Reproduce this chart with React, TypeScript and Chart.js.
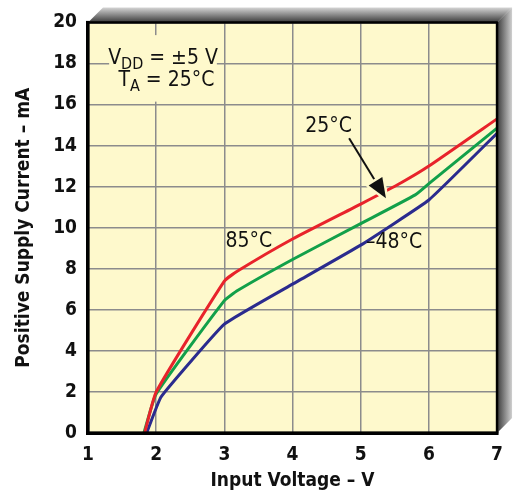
import React, { useEffect, useRef } from "react";
import { Chart, registerables } from "chart.js";

Chart.register(...registerables);

const FONT = '"Liberation Sans Narrow", "DejaVu Sans Condensed", "Liberation Sans", Arial, sans-serif';

// Input voltage (V) / positive supply current (mA)
const redVolts = [1.83, 2.0, 3.0, 3.2, 4.0, 5.0, 5.6, 6.0, 7.0];
const redCurrent = [0, 2.0, 7.4, 7.9, 9.45, 11.15, 12.2, 13.0, 15.3];
const greenVolts = [1.82, 2.0, 3.0, 3.2, 4.0, 5.0, 5.8, 6.0, 7.0];
const greenCurrent = [0, 1.9, 6.45, 6.95, 8.45, 10.2, 11.6, 12.15, 14.85];
const blueVolts = [1.86, 2.07, 3.0, 4.0, 5.0, 6.0, 7.0];
const blueCurrent = [0, 1.75, 5.3, 7.25, 9.15, 11.35, 14.6];

const seriesNames = ["85°C", "25°C", "–48°C"];
const xTicks = [1, 2, 3, 4, 5, 6, 7];
const yTicks = [0, 2, 4, 6, 8, 10, 12, 14, 16, 18, 20];

const zip = (xs: number[], ys: number[]) => xs.map((x, i) => ({ x, y: ys[i] }));

function drawRuns(ctx: CanvasRenderingContext2D, runs: { t: string; sub?: boolean }[], cx: number, cy: number, size: number) {
  const widths = runs.map((r) => {
    ctx.font = `${r.sub ? Math.round(size * 0.75) : size}px ${FONT}`;
    return ctx.measureText(r.t).width;
  });
  const total = widths.reduce((a, b) => a + b, 0);
  let x = cx - total / 2;
  ctx.textBaseline = "middle";
  ctx.textAlign = "left";
  runs.forEach((r, i) => {
    ctx.font = `${r.sub ? Math.round(size * 0.75) : size}px ${FONT}`;
    ctx.fillText(r.t, x, r.sub ? cy + size * 0.3 : cy);
    x += widths[i];
  });
}

const decor = {
  id: "decor",
  beforeDraw(chart: any) {
    const { ctx, chartArea } = chart;
    const { left, top, right, bottom } = chartArea;
    const d = 15;
    ctx.save();
    let g = ctx.createLinearGradient(0, top - d, 0, top);
    g.addColorStop(0, "#d6d6d6");
    g.addColorStop(1, "#3a3a3a");
    ctx.fillStyle = g;
    ctx.beginPath();
    ctx.moveTo(left, top);
    ctx.lineTo(left + d, top - d);
    ctx.lineTo(right + d, top - d);
    ctx.lineTo(right, top);
    ctx.closePath();
    ctx.fill();
    g = ctx.createLinearGradient(right, 0, right + d, 0);
    g.addColorStop(0, "#3a3a3a");
    g.addColorStop(1, "#d0d0d0");
    ctx.fillStyle = g;
    ctx.beginPath();
    ctx.moveTo(right, top);
    ctx.lineTo(right + d, top - d);
    ctx.lineTo(right + d, bottom - d);
    ctx.lineTo(right, bottom);
    ctx.closePath();
    ctx.fill();
    ctx.fillStyle = "#fef9cc";
    ctx.fillRect(left, top, right - left, bottom - top);
    ctx.restore();
  },
  beforeDatasetsDraw(chart: any) {
    const { ctx, scales } = chart;
    const x = scales.x, y = scales.y;
    ctx.save();
    ctx.fillStyle = "#fef9cc";
    const bx0 = x.getPixelForValue(1.31), bx1 = x.getPixelForValue(2.89);
    const by0 = y.getPixelForValue(19.38), by1 = y.getPixelForValue(16.14);
    ctx.fillRect(bx0, by0, bx1 - bx0, by1 - by0);
    ctx.fillStyle = "#111";
    drawRuns(ctx, [{ t: "V" }, { t: "DD", sub: true }, { t: " = ±5 V" }], x.getPixelForValue(2.1), y.getPixelForValue(18.25), 21);
    drawRuns(ctx, [{ t: "T" }, { t: "A", sub: true }, { t: " = 25°C" }], x.getPixelForValue(2.15), y.getPixelForValue(17.15), 21);
    ctx.restore();
  },
  afterDatasetsDraw(chart: any) {
    const { ctx, scales, chartArea } = chart;
    const x = scales.x, y = scales.y;
    ctx.save();
    ctx.fillStyle = "#111";
    ctx.textAlign = "center";
    ctx.textBaseline = "middle";
    ctx.font = `21px ${FONT}`;
    ctx.fillText(seriesNames[0], x.getPixelForValue(3.36), y.getPixelForValue(9.34));
    ctx.fillText(seriesNames[1], x.getPixelForValue(4.53), y.getPixelForValue(14.93));
    ctx.fillText(seriesNames[2], x.getPixelForValue(5.49), y.getPixelForValue(9.29));
    const x0 = x.getPixelForValue(4.83), y0 = y.getPixelForValue(14.36);
    const x1 = x.getPixelForValue(5.37), y1 = y.getPixelForValue(11.43);
    const ang = Math.atan2(y1 - y0, x1 - x0);
    const hl = 20, hw = 8;
    const bxp = x1 - hl * Math.cos(ang), byp = y1 - hl * Math.sin(ang);
    ctx.strokeStyle = "#111";
    ctx.lineWidth = 2;
    ctx.beginPath();
    ctx.moveTo(x0, y0);
    ctx.lineTo(bxp, byp);
    ctx.stroke();
    ctx.beginPath();
    ctx.moveTo(x1, y1);
    ctx.lineTo(bxp + hw * Math.sin(ang), byp - hw * Math.cos(ang));
    ctx.lineTo(bxp - hw * Math.sin(ang), byp + hw * Math.cos(ang));
    ctx.closePath();
    ctx.strokeStyle = "#fef9cc";
    ctx.lineWidth = 5;
    ctx.lineJoin = "round";
    ctx.stroke();
    ctx.fill();
    const { left, top, right, bottom } = chartArea;
    ctx.strokeStyle = "#000";
    ctx.lineWidth = 2.5;
    ctx.strokeRect(left, top, right - left, bottom - top);
    ctx.fillStyle = "#000";
    ctx.fillRect(left - 2, bottom - 1.5, right - left + 3.5, 3.5);
    ctx.fillRect(left - 2, top - 1.5, 3.5, bottom - top + 3.5);
    ctx.restore();
  },
};

export default function App() {
  const ref = useRef<HTMLCanvasElement>(null);
  useEffect(() => {
    const canvas = ref.current!;
    const chart = new Chart(canvas, {
      type: "line",
      data: {
        datasets: [
          { label: seriesNames[0], data: zip(redVolts, redCurrent), borderColor: "#e8232b", borderWidth: 3, pointRadius: 0, tension: 0.15, fill: false },
          { label: seriesNames[1], data: zip(greenVolts, greenCurrent), borderColor: "#12a04a", borderWidth: 3, pointRadius: 0, tension: 0.15, fill: false },
          { label: seriesNames[2], data: zip(blueVolts, blueCurrent), borderColor: "#2b2b8e", borderWidth: 3, pointRadius: 0, tension: 0.1, fill: false },
        ],
      },
      options: {
        responsive: false,
        animation: false,
        devicePixelRatio: 1,
        layout: { padding: { left: 0, right: 16, top: 21, bottom: 0 } },
        plugins: { legend: { display: false }, tooltip: { enabled: false } },
        scales: {
          x: {
            type: "linear",
            min: 1,
            max: 7,
            afterBuildTicks: (s: any) => { s.ticks = xTicks.map((v) => ({ value: v })); },
            afterFit: (s: any) => { s.height = 66; },
            grid: { color: "#8c8c8c", lineWidth: 1.5, drawTicks: false },
            border: { display: false },
            ticks: { color: "#111", font: { family: FONT, size: 19, weight: "bold" }, padding: 11 },
            title: { display: true, text: "Input Voltage – V", color: "#111", font: { family: FONT, size: 19, weight: "bold" }, padding: { top: 4, bottom: 7 } },
          },
          y: {
            type: "linear",
            min: 0,
            max: 20,
            afterBuildTicks: (s: any) => { s.ticks = yTicks.map((v) => ({ value: v })); },
            afterFit: (s: any) => { s.width = 88; },
            grid: { color: "#8c8c8c", lineWidth: 1.5, drawTicks: false },
            border: { display: false },
            ticks: { color: "#111", font: { family: FONT, size: 19, weight: "bold" }, padding: 11 },
            title: { display: true, text: "Positive Supply Current – mA", color: "#111", font: { family: FONT, size: 19, weight: "bold" }, padding: { top: 13, bottom: 4 } },
          },
        },
      },
      plugins: [decor],
    } as any);
    return () => chart.destroy();
  }, []);
  return (
    <div style={{ position: "absolute", left: 0, top: 0, width: 514, height: 499, background: "#fff" }}>
      <canvas ref={ref} width={514} height={499} style={{ display: "block" }} />
    </div>
  );
}
